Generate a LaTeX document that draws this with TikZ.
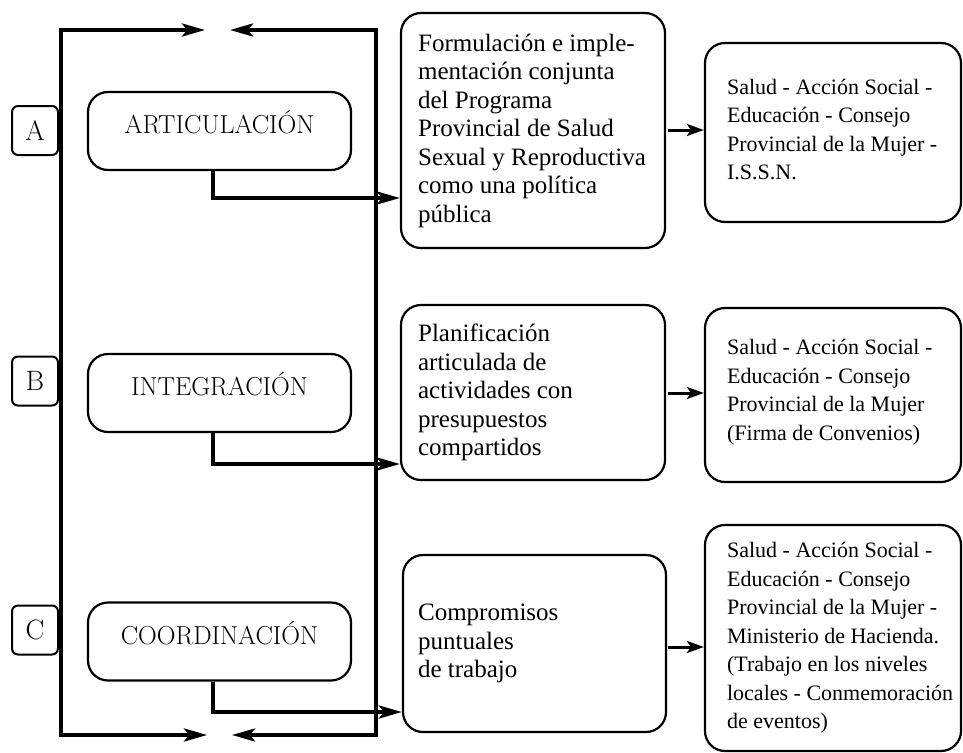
\documentclass[tikz,border=0pt]{standalone}
\usepackage{fontspec}
\newfontfamily\bodyfont{Liberation Serif}
\usetikzlibrary{arrows.meta}
\begin{document}
\begin{tikzpicture}[x=1pt,y=-1pt,
  frame/.style={line width=3.6pt},
  tipend/.style={-{Stealth[length=23pt,width=13pt,inset=5pt]}},
  bothtip/.style={{Stealth[length=23pt,width=13pt,inset=5pt]}-{Stealth[length=23pt,width=13pt,inset=5pt]}},
  letterbox/.style={draw,line width=2pt,rounded corners=6pt,minimum width=46pt,minimum height=49pt,inner sep=0pt,font=\fontsize{28}{28}\selectfont},
  labelbox/.style={draw,line width=2.2pt,rounded corners=20pt,minimum width=263pt,minimum height=78pt,inner sep=0pt,font=\fontsize{26}{26}\selectfont,text height=23pt,text depth=18pt},
  infobox/.style={draw,line width=2.2pt,rounded corners=20pt,inner sep=0pt},
  midtext/.style={anchor=west,align=left,inner sep=0pt,font=\bodyfont\fontsize{25}{28.5}\selectfont},
  righttext/.style={anchor=west,align=left,inner sep=0pt,font=\bodyfont\fontsize{22}{28.5}\selectfont},
  short/.style={line width=3pt,-{Stealth[length=17pt,width=12pt,inset=4pt]}}
]
\useasboundingbox (0,0) rectangle (963,752);

% frame
\coordinate (ftla) at (205,30);
\coordinate (ftl) at (61,30);
\coordinate (fbl) at (61,735);
\coordinate (fbla) at (207,735);
\coordinate (ftra) at (230,30);
\coordinate (ftr) at (376,30);
\coordinate (fbr) at (376,735);
\coordinate (fbra) at (232,735);
\draw[frame,bothtip] (ftla) -- (ftl) -- (fbl) -- (fbla);
\draw[frame,bothtip] (ftra) -- (ftr) -- (fbr) -- (fbra);

% letter boxes
\node[letterbox,fill=white] (la) at (35,130.5) {A};
\node[letterbox,fill=white] (lb) at (35,381) {B};
\node[letterbox,fill=white] (lc) at (35,630) {C};

% label boxes
\node[labelbox] (art) at (219.5,131) {ARTICULACIÓN};
\node[labelbox] (int) at (219.5,393) {INTEGRACIÓN};
\node[labelbox] (coo) at (219.5,641.5) {COORDINACIÓN};

% middle boxes
\node[infobox,minimum width=264pt,minimum height=235pt] (m1) at (533,130.5) {};
\node[midtext] (m1t) at ([xshift=18pt]m1.west) {Formulación e imple-\\mentación conjunta\\del Programa\\Provincial de Salud\\Sexual y Reproductiva\\como una política\\pública};
\node[infobox,minimum width=264pt,minimum height=175pt] (m2) at (533,392.5) {};
\node[midtext] (m2t) at ([xshift=18pt]m2.west) {Planificación\\articulada de\\actividades con\\presupuestos\\compartidos};
\node[infobox,minimum width=263pt,minimum height=177pt] (m3) at (534.5,643.5) {};
\node[midtext] (m3t) at ([xshift=16pt]m3.west) {Compromisos\\puntuales\\de trabajo};

% right boxes
\node[infobox,minimum width=256pt,minimum height=179pt] (r1) at (833,132.5) {};
\node[righttext] (r1t) at ([xshift=23pt,yshift=3pt]r1.west) {Salud - Acción Social -\\Educación - Consejo\\Provincial de la Mujer -\\I.S.S.N.};
\node[infobox,minimum width=256pt,minimum height=174pt] (r2) at (833,395) {};
\node[righttext] (r2t) at ([xshift=23pt,yshift=3pt]r2.west) {Salud - Acción Social -\\Educación - Consejo\\Provincial de la Mujer\\(Firma de Convenios)};
\node[infobox,minimum width=256pt,minimum height=226pt] (r3) at (833,638) {};
\node[righttext] (r3t) at ([xshift=23pt]r3.west) {Salud - Acción Social -\\Educación - Consejo\\Provincial de la Mujer -\\Ministerio de Hacienda.\\(Trabajo en los niveles\\locales - Conmemoración\\de eventos)};

% connectors from labels to middle boxes
\draw[frame,tipend] ([xshift=-6.5pt]art.south) |- (m1.west |- 0,198);
\draw[frame,tipend] ([xshift=-6.5pt]int.south) |- (m2.west |- 0,464);
\draw[frame,tipend] ([xshift=-6.5pt]coo.south) |- (m3.west |- 0,712);

% short arrows
\draw[short] ([xshift=2pt]m1.east |- 0,130) -- (r1.west |- 0,130);
\draw[short] ([xshift=2pt]m2.east |- 0,393) -- (r2.west |- 0,393);
\draw[short] ([xshift=1pt]m3.east |- 0,647) -- (r3.west |- 0,647);
\end{tikzpicture}
\end{document}
